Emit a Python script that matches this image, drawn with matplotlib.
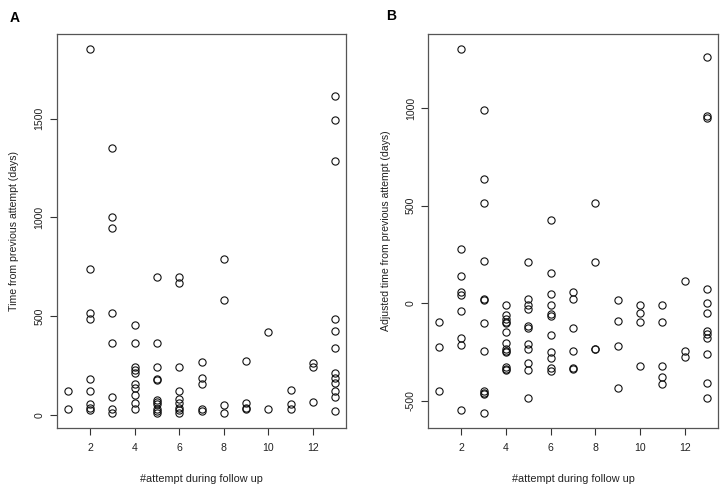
import matplotlib
matplotlib.use("Agg")
import matplotlib.pyplot as plt

plt.rcParams['font.family'] = ['Liberation Sans', 'DejaVu Sans']

# Panel A: raw time from previous attempt (days)
a_x = [1, 1,
       2, 2, 2, 2, 2, 2, 2, 2, 2,
       3, 3, 3, 3, 3, 3, 3, 3,
       4, 4, 4, 4, 4, 4, 4, 4, 4, 4,
       5, 5, 5, 5, 5, 5, 5, 5, 5, 5, 5,
       6, 6, 6, 6, 6, 6, 6, 6, 6,
       7, 7, 7, 7, 7,
       8, 8, 8, 8,
       9, 9, 9, 9,
       10, 10,
       11, 11, 11,
       12, 12, 12,
       13, 13, 13, 13, 13, 13, 13, 13, 13, 13, 13, 13]
a_y = [123, 30,
       1856, 739, 518, 484, 183, 123, 57, 32, 24,
       1350, 1003, 947, 518, 365, 91, 30, 7,
       455, 365, 244, 227, 210, 154, 137, 98, 61, 29,
       699, 365, 244, 181, 176, 73, 63, 54, 30, 17, 7,
       700, 670, 244, 122, 81, 58, 32, 24, 10,
       267, 184, 156, 30, 19,
       790, 580, 51, 10,
       274, 61, 32, 29,
       421, 30,
       127, 56, 29,
       264, 240, 64,
       1614, 1492, 1287, 484, 425, 338, 213, 186, 159, 123, 91, 19]

# Panel B: adjusted time from previous attempt (days)
b_x = [1, 1, 1,
       2, 2, 2, 2, 2, 2, 2, 2, 2,
       3, 3, 3, 3, 3, 3, 3, 3, 3, 3, 3, 3,
       4, 4, 4, 4, 4, 4, 4, 4, 4, 4, 4, 4, 4,
       5, 5, 5, 5, 5, 5, 5, 5, 5, 5, 5,
       6, 6, 6, 6, 6, 6, 6, 6, 6, 6, 6,
       7, 7, 7, 7, 7, 7,
       8, 8, 8, 8,
       9, 9, 9, 9,
       10, 10, 10, 10,
       11, 11, 11, 11, 11,
       12, 12, 12,
       13, 13, 13, 13, 13, 13, 13, 13, 13, 13, 13, 13]
b_y = [-96, -223, -450,
       1306, 279, 140, 58, 41, -41, -180, -214, -546,
       991, 637, 515, 219, 22, 17, -99, -245, -449, -459, -464, -565,
       -10, -58, -82, -96, -103, -149, -205, -236, -243, -250, -325, -336, -344,
       211, 21, -9, -27, -118, -128, -209, -236, -305, -344, -486,
       426, 156, 48, -10, -55, -65, -164, -248, -279, -334, -348,
       57, 24, -127, -243, -334, -339,
       515, 214, -233, -236,
       19, -91, -217, -437,
       -10, -48, -96, -324,
       -10, -96, -324, -380, -414,
       116, -245, -276,
       1262, 962, 949, 74, 0, -48, -142, -158, -180, -260, -411, -488]

x_ticks = [2, 4, 6, 8, 10, 12]
a_yticks = [0, 500, 1000, 1500]
b_yticks = [-500, 0, 500, 1000]
x_label = "#attempt during follow up"
a_ylabel = "Time from previous attempt (days)"
b_ylabel = "Adjusted time from previous attempt (days)"

fig = plt.figure(figsize=(7.22, 4.88), dpi=100)
axA = fig.add_axes([57/722, 60/488, 289/722, 394/488])
axB = fig.add_axes([428.3/722, 60/488, 289.4/722, 394/488])

def r_range(vals):
    lo, hi = min(vals), max(vals)
    d = (hi - lo) * 0.04
    return lo - d, hi + d

for ax, xs, ys, yt, yl in [(axA, a_x, a_y, a_yticks, a_ylabel),
                           (axB, b_x, b_y, b_yticks, b_ylabel)]:
    ax.plot(xs, ys, linestyle='none', marker='o', markersize=5.2,
            markerfacecolor='none', markeredgecolor='#111111', markeredgewidth=0.8)
    ax.set_xlim(*r_range(xs))
    ax.set_ylim(*r_range(ys))
    ax.set_xticks(x_ticks)
    ax.set_yticks(yt)
    ax.set_yticklabels([str(v) for v in yt], rotation=90, va='center')
    ax.tick_params(direction='out', length=5, width=0.8, labelsize=7.6,
                   color='#333333', labelcolor='#222222', pad=4)
    ax.tick_params(axis='x', pad=6)
    for s in ax.spines.values():
        s.set_color('#555555')
        s.set_linewidth(0.9)
    ax.set_xlabel(x_label, fontsize=7.8, color='#222222', labelpad=15)
    ax.set_ylabel(yl, fontsize=7.6, color='#222222', labelpad=11)

fig.text(10/722, 1 - 18/488, "A", fontsize=10, fontweight='bold', va='center', ha='left')
fig.text(386/722, 1 - 16/488, "B", fontsize=10, fontweight='bold', va='center', ha='left')

fig.savefig("out.png", dpi=100)
